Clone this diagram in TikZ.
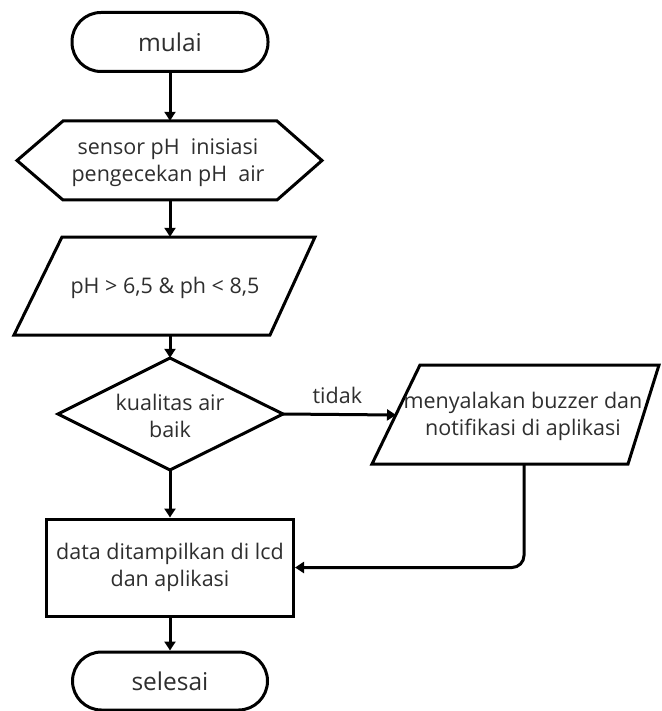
\documentclass[tikz,border=0pt]{standalone}
\usepackage{fontspec}
\setmainfont{Open Sans}
\usetikzlibrary{arrows.meta}
\definecolor{txt}{HTML}{2E2E2E}
\begin{document}
\begin{tikzpicture}[x=1pt,y=-1pt,
  shp/.style={line width=3pt,line join=miter},
  lbl/.style={text=txt,font=\fontsize{21.5}{27}\selectfont,align=center,inner sep=0pt},
  term/.style={draw,line width=3pt,rounded corners=29pt,text=txt,font=\fontsize{24.5}{27}\selectfont},
  arr/.style={line width=3pt,-{Triangle[length=9pt,width=11pt]}},
  box/.style={inner sep=0pt}]
\useasboundingbox (0,0) rectangle (661,711);
% start
\node[term,minimum width=196pt,minimum height=59pt] (start) at (170,42) {mulai};
% hexagon
\draw[shp] (17,160.5)--(63,121)--(277,121)--(322,160.5)--(277,200)--(63,200)--cycle;
\node[box,minimum width=300pt,minimum height=79pt] (hex) at (170,160.5) {};
\node[lbl] (hext) at (168,163) {sensor pH\ \ inisiasi\\pengecekan pH\ \ air};
% parallelogram 1
\draw[shp] (62,237)--(315,237)--(270,335)--(14,335)--cycle;
\node[box,minimum width=200pt,minimum height=98pt] (inp) at (170,286) {};
\node[lbl] (inpt) at (165,288) {pH > 6,5 \& ph < 8,5};
% diamond
\draw[shp] (58,414)--(170,358)--(283,414)--(170,470)--cycle;
\node[box,minimum width=225pt,minimum height=112pt] (dec) at (170,414) {};
\node[lbl] (dect) at (170,416) {kualitas air\\baik};
% rect
\node[draw,line width=3pt,minimum width=247pt,minimum height=97pt,lbl,inner sep=0pt] (out) at (170,567.5) {data ditampilkan di lcd\\dan aplikasi};
% end
\node[term,minimum width=195pt,minimum height=58pt] (stop) at (170,681) {selesai};
% parallelogram 2
\draw[shp] (420,365)--(659,365)--(628,464)--(372,464)--cycle;
\node[box,minimum width=200pt,minimum height=99pt] (buz) at (524,414.5) {};
\node[lbl] (buzt) at (523,416) {menyalakan buzzer dan\\notifikasi di aplikasi};
\coordinate (buzl) at (396,415);
% connectors
\draw[arr] (start.south) -- (hex.north);
\draw[arr] (hex.south) -- (inp.north);
\draw[arr] (inp.south) -- (dec.north);
\draw[arr] (dec.south) -- (out.north);
\draw[arr] (out.south) -- (stop.north);
\draw[arr] (dec.east) -- node[lbl,above=9pt,xshift=-2pt] {tidak} (buzl);
\draw[arr,rounded corners=12pt] (buz.south) |- (out.east);
\end{tikzpicture}
\end{document}
